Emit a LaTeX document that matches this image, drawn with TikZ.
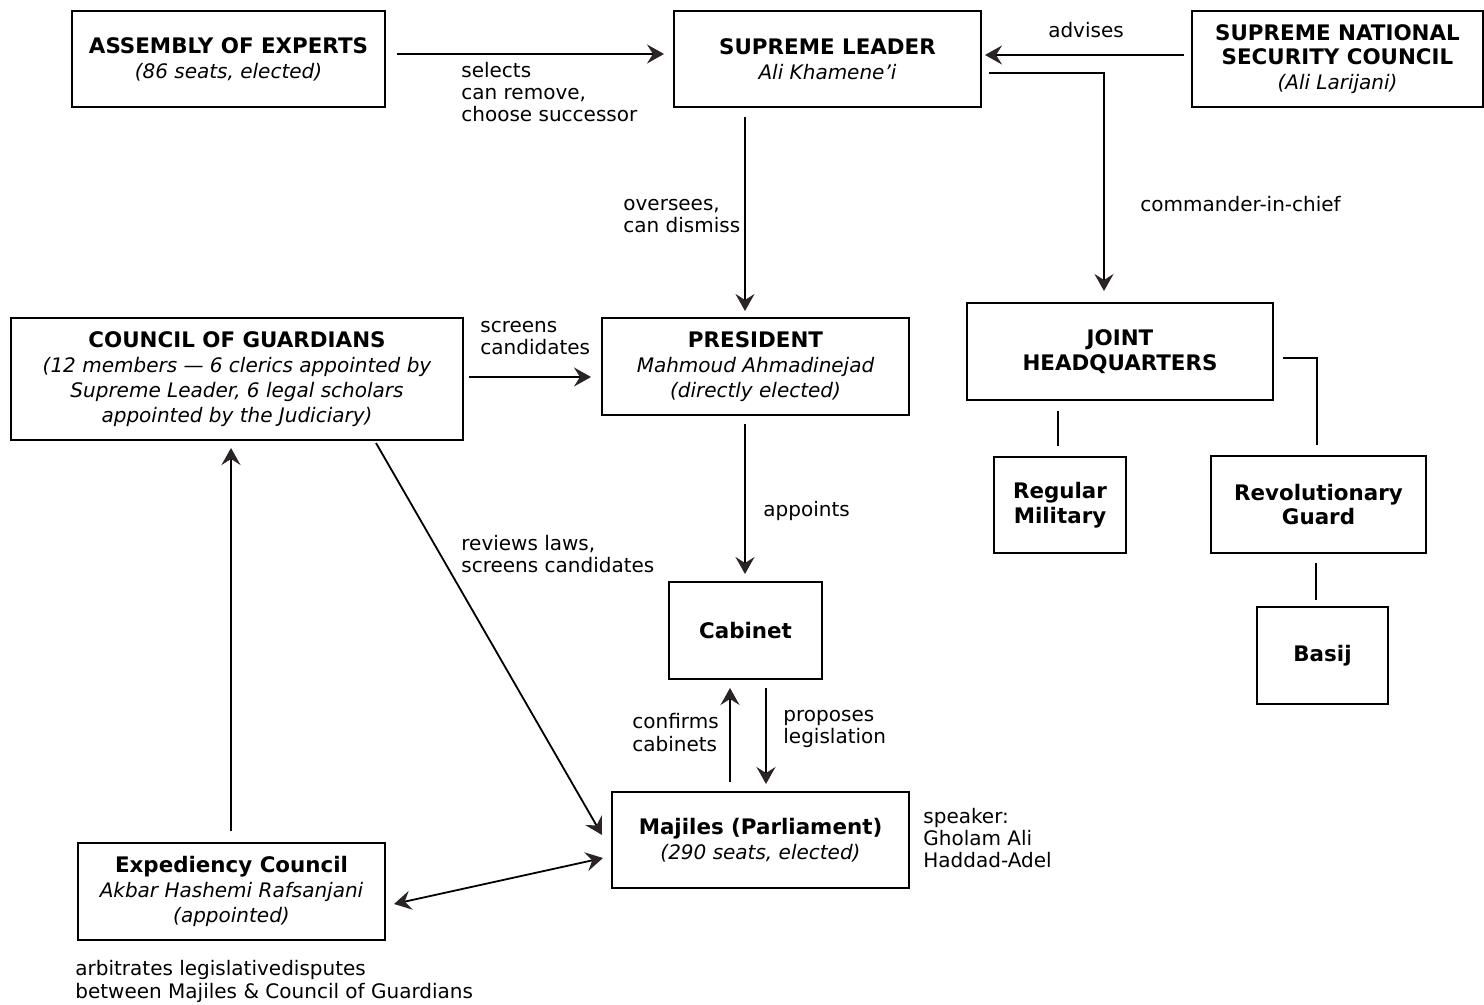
\documentclass[tikz,border=0pt]{standalone}
\usepackage{fontspec}
\setmainfont{DejaVu Sans}
\usetikzlibrary{arrows.meta,calc}
\definecolor{tipcol}{HTML}{2B2326}
\newcommand\boxtitle[1]{{\fontsize{10.7}{12.5}\selectfont\bfseries #1}}
\begin{document}
\begin{tikzpicture}[x=0.5pt,y=-0.5pt,
  box/.style={draw, line width=1pt, align=center, inner sep=0pt, font=\fontsize{10}{12.4}\selectfont},
  lbl/.style={align=left, anchor=west, inner sep=0pt, font=\fontsize{10}{11.2}\selectfont},
  arr/.style={line width=0.9pt, -{Stealth[length=8.5pt,width=9.5pt,inset=3pt,color=tipcol]}},
  darr/.style={line width=0.9pt, {Stealth[length=8.5pt,width=9.5pt,inset=3pt,color=tipcol]}-{Stealth[length=8.5pt,width=9.5pt,inset=3pt,color=tipcol]}},
  ln/.style={line width=0.9pt}]
\path[fill=white] (0,0) rectangle (1484,1005);
\useasboundingbox (0,0) rectangle (1484,1005);

% boxes
\node[box, minimum width=156.5pt, minimum height=48pt] (ae) at (228.5,59)
  {\boxtitle{ASSEMBLY OF EXPERTS}\\\itshape (86 seats, elected)};
\node[box, minimum width=153.5pt, minimum height=48pt] (sl) at (827.5,59)
  {\boxtitle{SUPREME LEADER}\\\itshape Ali Khamene'i};
\node[box, minimum width=145.5pt, minimum height=48pt] (snsc) at (1337.5,59)
  {\boxtitle{SUPREME NATIONAL}\\\boxtitle{SECURITY COUNCIL}\\\itshape (Ali Larijani)};
\node[box, minimum width=226pt, minimum height=61pt] (cog) at (237,379)
  {\boxtitle{COUNCIL OF GUARDIANS}\\\itshape (12 members --- 6 clerics appointed by\\\itshape Supreme Leader, 6 legal scholars\\\itshape appointed by the Judiciary)};
\node[box, minimum width=153.5pt, minimum height=48.5pt] (pres) at (755.5,366.5)
  {\boxtitle{PRESIDENT}\\\itshape Mahmoud Ahmadinejad\\\itshape (directly elected)};
\node[box, minimum width=153pt, minimum height=48.5pt] (jhq) at (1120,351.5)
  {\boxtitle{JOINT}\\\boxtitle{HEADQUARTERS}};
\node[box, minimum width=66pt, minimum height=48pt] (rm) at (1060,505)
  {\boxtitle{Regular}\\\boxtitle{Military}};
\node[box, minimum width=107.5pt, minimum height=48.5pt] (rg) at (1318.5,504.5)
  {\boxtitle{Revolutionary}\\\boxtitle{Guard}};
\node[box, minimum width=65.5pt, minimum height=48.5pt] (basij) at (1322.5,655.5)
  {\boxtitle{Basij}};
\node[box, minimum width=76.5pt, minimum height=48.5pt] (cab) at (745.5,630.5)
  {\boxtitle{Cabinet}};
\node[box, minimum width=148.5pt, minimum height=48pt] (maj) at (760.5,840)
  {\boxtitle{Majiles (Parliament)}\\\itshape (290 seats, elected)};
\node[box, minimum width=153.5pt, minimum height=48.5pt] (exp) at (231.5,891.5)
  {\boxtitle{Expediency Council}\\\itshape Akbar Hashemi Rafsanjani\\\itshape (appointed)};

% labels
\node[lbl] (l1) at (461,92) {selects\\can remove,\\choose successor};
\node[lbl, anchor=center] (l2) at (1086,30) {advises};
\node[lbl] (l3) at (1140,204) {commander-in-chief};
\node[lbl] (l4) at (623,216) {oversees,\\can dismiss};
\node[lbl] (l5) at (480,338) {screens\\candidates};
\node[lbl] (l6) at (763,511) {appoints};
\node[lbl] (l7) at (461,554) {reviews laws,\\screens candidates};
\node[lbl] (l8) at (632,732.5) {confirms\\cabinets};
\node[lbl] (l9) at (783,729) {proposes\\legislation};
\node[lbl] (l10) at (923,838) {speaker:\\Gholam Ali\\Haddad-Adel};
\node[lbl] (l11) at (75,981.5) {arbitrates legislativedisputes\\between Majiles \& Council of Guardians};

% connectors
\draw[arr] ($(ae.east)+(11,-5)$) -- ($(sl.west)+(-9,-5)$);
\draw[arr] ($(snsc.west)+(-7,-4)$) -- ($(sl.east)+(3,-4)$);
\draw[arr] ($(sl.east)+(7,14)$) -| ($(jhq.north)+(-16,-11)$);
\draw[arr] ($(sl.south)+(-82.5,9)$) -- ($(pres.north)+(-10.5,-6)$);
\draw[arr] ($(cog.east)+(5,-2)$) -- ($(pres.west)+(-10,10.5)$);
\draw[arr] ($(pres.south)+(-10.5,8)$) -- ($(cab.north)+(-0.5,-7)$);
\draw[arr] ($(maj.north)+(-30.5,-9)$) -- ($(cab.south)+(-15.5,8)$);
\draw[arr] ($(cab.south)+(20.5,8)$) -- ($(maj.north)+(5.5,-7)$);
\draw[arr] ($(cog.south)+(139,2)$) -- ($(maj.west)+(-9,-5)$);
\draw[arr] ($(exp.north)+(-0.5,-11)$) -- ($(cog.south)+(-6,7)$);
\draw[darr] ($(exp.east)+(8,12.5)$) -- ($(maj.west)+(-8,18)$);
\draw[ln] ($(jhq.east)+(9,6.5)$) -| ($(rg.north)+(-1.5,-10)$);
\draw[ln] ($(jhq.south)+(-62,10)$) -- ($(rm.north)+(-2,-10)$);
\draw[ln] ($(rg.south)+(-2.5,9)$) -- ($(basij.north)+(-6.5,-6)$);
\end{tikzpicture}
\end{document}
